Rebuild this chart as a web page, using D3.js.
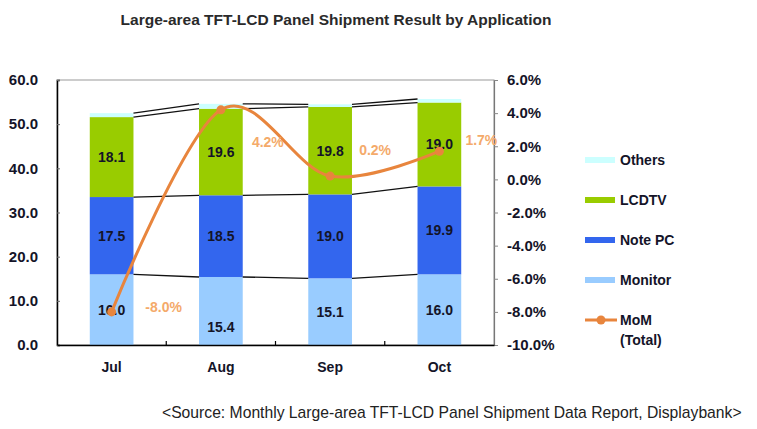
<!DOCTYPE html>
<html><head><meta charset="utf-8">
<script src="https://cdn.jsdelivr.net/npm/d3@7"></script>
<style>body{margin:0;background:#fff;}svg{display:block;font-family:"Liberation Sans",Arial,sans-serif;}</style>
</head><body><svg id="c" width="757" height="429"></svg>
<script>
const months = ["Jul","Aug","Sep","Oct"];
const monitor = [16.0,15.4,15.1,16.0];
const notePC = [17.5,18.5,19.0,19.9];
const lcdtv = [18.1,19.6,19.8,19.0];
const others = [0.9,1.1,0.6,0.8];
const mom = [-8.0,4.2,0.2,1.7];
const leftTicks = [0,10,20,30,40,50,60];
const rightTicks = [-10,-8,-6,-4,-2,0,2,4,6];
const seriesNames = ["Monitor","Note PC","LCDTV","Others"];
const seriesColors = ["#99CCFF","#3366EE","#99CC00","#CCFFFF"];

const svg = d3.select("#c");
const L=57,R=494,T=80,B=345;
const x = d3.scaleBand().domain(months).range([L,R]).paddingInner(0.6).paddingOuter(0.3);
const y = d3.scaleLinear().domain([0,60]).range([B,T]);
const y2 = d3.scaleLinear().domain([-10,6]).range([B,T]);
const series = [monitor,notePC,lcdtv,others];
const stackData = months.map((m,i)=>({month:m,Monitor:monitor[i],"Note PC":notePC[i],LCDTV:lcdtv[i],Others:others[i]}));
const stacked = d3.stack().keys(seriesNames)(stackData);
const textCol="#141428";

svg.append("text").attr("x",336).attr("y",25).attr("text-anchor","middle")
  .attr("font-weight","bold").attr("font-size",15.5).attr("fill","#2a2a2a").text("Large-area TFT-LCD Panel Shipment Result by Application");

// plot border
svg.append("rect").attr("x",L).attr("y",T).attr("width",R-L).attr("height",B-T).attr("fill","none").attr("stroke","#999").attr("stroke-width",1);

// bars
stacked.forEach((s,si)=>{
  svg.append("g").selectAll("rect").data(s).join("rect")
    .attr("x",(d,i)=>x(months[i])).attr("width",x.bandwidth())
    .attr("y",d=>y(d[1])).attr("height",d=>y(d[0])-y(d[1]))
    .attr("fill",seriesColors[si]);
});
// series lines
stacked.forEach((s)=>{
  for(let i=0;i<s.length-1;i++){
    svg.append("line").attr("x1",x(months[i])+x.bandwidth()).attr("y1",y(s[i][1]))
      .attr("x2",x(months[i+1])).attr("y2",y(s[i+1][1]))
      .attr("stroke","#111").attr("stroke-width",1.3);
  }
});
// bar labels
stacked.slice(0,3).forEach((s,si)=>{
  svg.append("g").selectAll("text").data(s).join("text")
    .attr("x",(d,i)=>x(months[i])+x.bandwidth()/2)
    .attr("y",(d,i)=>(y(d[0])+y(d[1]))/2 + 5 + (si===0 && i===1 ? 16 : 0))
    .attr("text-anchor","middle").attr("font-weight","bold").attr("font-size",14)
    .attr("fill",textCol).text((d,i)=>series[si][i].toFixed(1));
});

// axes
const gl = svg.append("g").attr("transform",`translate(${L},0)`)
  .call(d3.axisLeft(y).tickValues(leftTicks).tickSize(-3).tickPadding(19).tickFormat(d3.format(".1f")));
gl.select(".domain").attr("stroke","#000").attr("stroke-width",1.5);
gl.selectAll("text").attr("font-weight","bold").attr("font-size",15).attr("fill",textCol).attr("font-family","Liberation Sans,Arial");
gl.selectAll(".tick line").attr("stroke","#666");

const gr = svg.append("g").attr("transform",`translate(${R},0)`)
  .call(d3.axisRight(y2).tickValues(rightTicks).tickSize(4).tickPadding(10).tickFormat(d=>d.toFixed(1)+"%"));
gr.select(".domain").attr("stroke","#777").attr("stroke-width",1.2);
gr.selectAll("text").attr("font-weight","bold").attr("font-size",15).attr("fill",textCol).attr("font-family","Liberation Sans,Arial")
  .attr("x",13);
gr.selectAll(".tick line").attr("stroke","#888");

const gb = svg.append("g").attr("transform",`translate(0,${B})`)
  .call(d3.axisBottom(x).tickSize(0).tickPadding(17));
gb.select(".domain").attr("stroke","#000").attr("stroke-width",1.5);
gb.selectAll("text").attr("font-weight","bold").attr("font-size",14).attr("fill",textCol).attr("font-family","Liberation Sans,Arial");
const step = x.step();
months.slice(0,-1).forEach((m,i)=>{
  const xx = x(m)+x.bandwidth()/2+step/2;
  svg.append("line").attr("x1",xx).attr("x2",xx).attr("y1",B).attr("y2",B-4).attr("stroke","#000").attr("stroke-width",1.2);
});

// MoM line
const pts = months.map((m,i)=>[x(m)+x.bandwidth()/2, y2(mom[i])]);
const momColor="#E8853D";
svg.append("path").attr("d",d3.line().curve(d3.curveCatmullRom.alpha(0))(pts))
  .attr("fill","none").attr("stroke",momColor).attr("stroke-width",3);
svg.append("g").selectAll("circle").data(pts).join("circle")
  .attr("cx",d=>d[0]).attr("cy",d=>d[1]).attr("r",4.5).attr("fill",momColor);
const momLabelOff = [[52,0],[47,37],[45,-21],[42,-6]];
svg.append("g").selectAll("text").data(pts).join("text")
  .attr("x",(d,i)=>d[0]+momLabelOff[i][0]).attr("y",(d,i)=>d[1]+momLabelOff[i][1])
  .attr("text-anchor","middle").attr("font-weight","bold").attr("font-size",14)
  .attr("fill","#F4AA6A").text((d,i)=>mom[i].toFixed(1)+"%");

// legend
const leg = [["Others",3,160],["LCDTV",2,200],["Note PC",1,240],["Monitor",0,280]];
leg.forEach(([name,ci,ly])=>{
  svg.append("rect").attr("x",585).attr("y",ly-3).attr("width",30).attr("height",6).attr("fill",seriesColors[ci]);
  svg.append("text").attr("x",620).attr("y",ly+5).attr("font-weight","bold").attr("font-size",14).attr("fill",textCol).text(name);
});
svg.append("line").attr("x1",585).attr("x2",617).attr("y1",320).attr("y2",320).attr("stroke",momColor).attr("stroke-width",3);
svg.append("circle").attr("cx",601).attr("cy",320).attr("r",4.5).attr("fill",momColor);
svg.append("text").attr("x",620).attr("y",325).attr("font-weight","bold").attr("font-size",14).attr("fill",textCol).text("MoM");
svg.append("text").attr("x",620).attr("y",345).attr("font-weight","bold").attr("font-size",14).attr("fill",textCol).text("(Total)");

svg.append("text").attr("x",162).attr("y",418).attr("font-size",15.7).attr("fill","#222")
  .text("<Source: Monthly Large-area TFT-LCD Panel Shipment Data Report, Displaybank>");
</script></body></html>
